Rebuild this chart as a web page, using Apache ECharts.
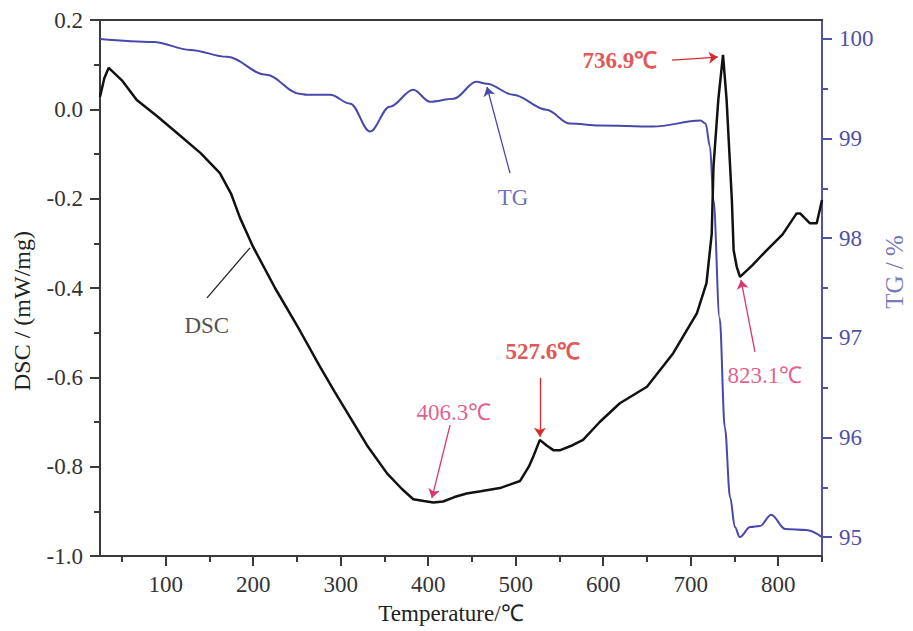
<!DOCTYPE html>
<html>
<head>
<meta charset="utf-8">
<script src="https://cdn.jsdelivr.net/npm/echarts@6/dist/echarts.min.js"></script>
<style>
  html, body { margin: 0; padding: 0; background: #fff; }
  #main { width: 913px; height: 631px; }
</style>
</head>
<body>
<div id="main"></div>
<script>
// DSC curve (temperature in C, mW/mg)
var dscTemp = [25, 30, 35, 50, 67, 90, 113, 140, 162, 175, 185, 200, 225, 253, 276, 293, 311, 330, 353, 370, 383, 395, 406, 417, 430, 444, 460, 482, 505, 515, 520, 527.6, 535, 543, 551, 565, 577, 596, 619, 650, 680, 700, 707, 718, 724, 726, 731.5, 736.9, 741, 747, 749, 752.5, 756.3, 770, 787, 805, 821, 825, 836, 844, 850];
var dscVal = [0.028, 0.07, 0.093, 0.065, 0.021, -0.015, -0.053, -0.098, -0.143, -0.19, -0.243, -0.308, -0.40, -0.494, -0.575, -0.632, -0.69, -0.752, -0.815, -0.85, -0.873, -0.877, -0.880, -0.878, -0.868, -0.860, -0.855, -0.848, -0.832, -0.80, -0.778, -0.740, -0.752, -0.763, -0.763, -0.752, -0.740, -0.700, -0.658, -0.621, -0.546, -0.480, -0.457, -0.389, -0.278, -0.128, 0.021, 0.122, 0.021, -0.203, -0.315, -0.352, -0.375, -0.35, -0.315, -0.28, -0.233, -0.233, -0.255, -0.255, -0.203];

// TG curve (%)
var tgTemp = [25, 86, 128, 170, 215, 253, 261, 288, 311, 333.5, 356, 383, 402, 429, 455, 467, 497, 535, 562, 596, 657, 711, 717, 722, 726, 733, 739, 745, 750.5, 756, 768, 779, 792, 808, 832, 850];
var tgVal = [100.00, 99.97, 99.89, 99.82, 99.64, 99.45, 99.44, 99.44, 99.35, 99.07, 99.32, 99.49, 99.37, 99.40, 99.57, 99.55, 99.44, 99.29, 99.15, 99.13, 99.12, 99.18, 99.15, 98.92, 98.38, 97.2, 96.1, 95.40, 95.10, 95.00, 95.10, 95.11, 95.225, 95.08, 95.07, 95.00];

// axis ticks
var xLabels = [100, 200, 300, 400, 500, 600, 700, 800];
var xMinor = [50, 150, 250, 350, 450, 550, 650, 750, 850];
var tgLabels = [95, 96, 97, 98, 99, 100];
var tgMinor = [95.5, 96.5, 97.5, 98.5, 99.5];

// annotations in DSC coordinates
var noteText = ['736.9℃', '527.6℃', '406.3℃', '823.1℃', 'TG', 'DSC'];
var noteAt = [[619, 0.110], [531, -0.543], [429.5, -0.678], [784.8, -0.595], [497, -0.198], [147, -0.483]];
var arrowFrom = [[678.6, 0.110], [527.6, -0.601], [425, -0.707], [773.4, -0.543], [493.5, -0.143], [147.3, -0.422]];
var arrowTo = [[731, 0.117], [527.6, -0.733], [404.3, -0.870], [757.4, -0.382], [467.2, 0.05], [196.4, -0.310]];

var RED = '#d92a2a', PINK = '#d8366f', BLUE = '#4848aa', DARK = '#3a3a3a';
var noteColor = [RED, RED, PINK, PINK, BLUE, '#222'];
var noteHead = ['arrow', 'arrow', 'arrow', 'arrow', 'arrow', 'none'];
var serif = 'Liberation Serif';

var chart = echarts.init(document.getElementById('main'), null, { renderer: 'svg' });

var dscData = dscTemp.map(function (t, i) { return [t, dscVal[i]]; });
var tgData = tgTemp.map(function (t, i) { return [t, tgVal[i]]; });

var arrows = [];
for (let i = 0; i < arrowFrom.length; i++) {
    arrows.push([
        { coord: arrowFrom[i], symbol: 'none', lineStyle: { type: 'solid', width: 1.3, color: noteColor[i] } },
        { coord: arrowTo[i], symbol: noteHead[i] }
    ]);
}
var notes = noteText.map(function (s, i) {
    return {
        name: s,
        value: noteAt[i],
        label: {
            color: noteColor[i],
            fontWeight: i < 2 ? 'bold' : 'normal',
            fontSize: 23
        }
    };
});

chart.setOption({
    backgroundColor: '#fff',
    animation: false,
    grid: { left: 100, right: 91, top: 20, bottom: 75 },
    xAxis: [{
        type: 'value', min: 25, max: 850, position: 'bottom',
        axisLine: { onZero: false, lineStyle: { color: DARK, width: 2 } },
        axisTick: { customValues: xLabels, length: 10, lineStyle: { color: DARK, width: 2 } },
        axisLabel: { customValues: xLabels, fontSize: 23, color: '#333', fontFamily: serif, margin: 17 },
        splitLine: { show: false }
    }, {
        type: 'value', min: 25, max: 850, position: 'bottom',
        axisLine: { show: false, onZero: false },
        axisTick: { customValues: xMinor, length: 6, lineStyle: { color: DARK, width: 2 } },
        axisLabel: { show: false },
        splitLine: { show: false }
    }, {
        type: 'value', min: 25, max: 850, position: 'top',
        axisLine: { onZero: false, lineStyle: { color: DARK, width: 2 } },
        axisTick: { show: false },
        axisLabel: { show: false },
        splitLine: { show: false }
    }],
    yAxis: [{
        type: 'value', min: -1.0, max: 0.2, interval: 0.2, position: 'left',
        axisLine: { show: true, onZero: false, lineStyle: { color: DARK, width: 2 } },
        axisTick: { show: true, length: 10, lineStyle: { color: DARK, width: 2 } },
        minorTick: { show: true, splitNumber: 2, length: 6, lineStyle: { color: DARK, width: 2 } },
        axisLabel: {
            fontSize: 23, color: '#333', fontFamily: serif, margin: 17,
            formatter: function (v) { return v.toFixed(1); }
        },
        splitLine: { show: false }
    }, {
        type: 'value', min: 94.81, max: 100.19, position: 'right',
        axisLine: { show: true, onZero: false, lineStyle: { color: '#5252a8', width: 2 } },
        axisTick: { show: true, customValues: tgLabels, length: 10, lineStyle: { color: '#5252a8', width: 2 } },
        axisLabel: { customValues: tgLabels, fontSize: 23, color: '#5050a8', fontFamily: serif, margin: 17 },
        splitLine: { show: false }
    }, {
        type: 'value', min: 94.81, max: 100.19, position: 'right',
        axisLine: { show: false, onZero: false },
        axisTick: { show: true, customValues: tgMinor, length: 6, lineStyle: { color: '#5252a8', width: 2 } },
        axisLabel: { show: false },
        splitLine: { show: false }
    }],
    graphic: [{
        type: 'text', x: 22, y: 311, rotation: Math.PI / 2,
        style: {
            text: 'DSC / (mW/mg)', font: '24px "Liberation Serif"', fill: '#222',
            align: 'center', verticalAlign: 'middle'
        }
    }, {
        type: 'text', x: 894, y: 272, rotation: Math.PI / 2,
        style: {
            text: 'TG / %', font: '25px "Liberation Serif"', fill: '#7a7ab8',
            align: 'center', verticalAlign: 'middle'
        }
    }, {
        type: 'text', x: 451, y: 613,
        style: {
            text: 'Temperature/℃', font: '23px "Liberation Serif"', fill: '#222',
            align: 'center', verticalAlign: 'middle'
        }
    }],
    series: [{
        name: 'TG',
        type: 'line',
        xAxisIndex: 0,
        yAxisIndex: 1,
        data: tgData,
        showSymbol: false,
        smooth: 0.35,
        smoothMonotone: 'x',
        lineStyle: { color: BLUE, width: 2 },
        z: 2
    }, {
        name: 'DSC',
        type: 'line',
        xAxisIndex: 0,
        yAxisIndex: 0,
        data: dscData,
        showSymbol: false,
        lineStyle: { color: '#111', width: 2.5 },
        z: 3,
        markLine: {
            silent: true,
            symbolSize: 9,
            label: { show: false },
            lineStyle: { type: 'solid', width: 1.3 },
            data: arrows
        }
    }, {
        name: 'notes',
        type: 'scatter',
        xAxisIndex: 0,
        yAxisIndex: 0,
        symbolSize: 1,
        itemStyle: { color: 'rgba(0,0,0,0)' },
        silent: true,
        z: 5,
        label: {
            show: true, position: 'inside', formatter: '{b}',
            fontFamily: serif
        },
        data: notes
    }]
});
</script>
</body>
</html>
